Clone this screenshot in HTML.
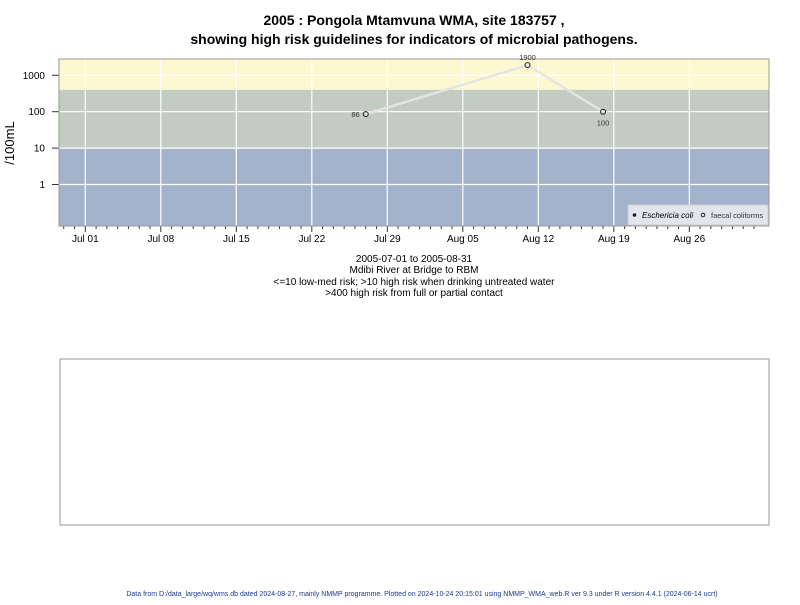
<!DOCTYPE html>
<html><head><meta charset="utf-8"><style>
body{margin:0;background:#fff;font-family:"Liberation Sans",sans-serif}
svg text{font-family:"Liberation Sans",sans-serif}
</style></head><body>
<svg width="800" height="600" viewBox="0 0 800 600">
<text x="414" y="25" text-anchor="middle" font-size="14" font-weight="bold">2005 : Pongola Mtamvuna WMA, site 183757 ,</text>
<text x="414" y="44" text-anchor="middle" font-size="14" font-weight="bold">showing high risk guidelines for indicators of microbial pathogens.</text>
<g id="plot"></g>
<text x="14" y="143" font-size="13" transform="rotate(-90 14 143)" text-anchor="middle">/100mL</text>
<text x="414" y="262" text-anchor="middle" font-size="10">2005-07-01 to 2005-08-31</text>
<text x="414" y="273" text-anchor="middle" font-size="10">Mdibi River at Bridge to RBM</text>
<text x="414" y="285" text-anchor="middle" font-size="10">&lt;=10 low-med risk; &gt;10 high risk when drinking untreated water</text>
<text x="414" y="296" text-anchor="middle" font-size="10">&gt;400 high risk from full or partial contact</text>
<rect x="60" y="359" width="709" height="166" fill="none" stroke="#999"/>
<text x="422" y="596" text-anchor="middle" font-size="7" fill="#1a3a8a">Data from D:/data_large/wq/wms.db dated 2024-08-27, mainly NMMP programme. Plotted on 2024-10-24 20:15:01 using NMMP_WMA_web.R ver 9.3 under R version 4.4.1 (2024-06-14 ucrt)</text>
</svg>
<script>
const dates=["2005-07-27","2005-08-11","2005-08-18"];
const values=[86,1900,100];
const labels=["86","1900","100"];
const yTicks=[1,10,100,1000];
const xTickLabels=["Jul 01","Jul 08","Jul 15","Jul 22","Jul 29","Aug 05","Aug 12","Aug 19","Aug 26"];
const NS="http://www.w3.org/2000/svg";
const L=59,R=769,T=59,B=226;
const d0=Date.UTC(2005,6,1);
function day(s){return (Date.parse(s+"T00:00:00Z")-d0)/864e5;}
function x(d){return 85.3+d*10.786;}
function y(v){return 184.5-Math.log10(v)*36.4;}
const g=document.getElementById('plot');
function el(t,a,p){const e=document.createElementNS(NS,t);for(const k in a)e.setAttribute(k,a[k]);(p||g).appendChild(e);return e;}
let e;
e=el('rect',{x:L,y:T,width:R-L,height:y(400)-T,fill:'#fdf8d0'});


e=el('rect',{x:L,y:y(400),width:R-L,height:y(10)-y(400),fill:'#c2ccc0'});


e=el('rect',{x:L,y:y(10),width:R-L,height:B-y(10),fill:'#a2b3cb'});


yTicks.forEach(v=>{
 e=el('line',{x1:L,x2:R,y1:y(v),y2:y(v),stroke:'#fff','stroke-width':1.2});
 
 
 el('line',{x1:L-7,x2:L,y1:y(v),y2:y(v),stroke:'#333'});
 e=el('text',{x:45,y:y(v)+3.5,'text-anchor':'end','font-size':10});
 e.textContent=v;
 
 
});
xTickLabels.forEach((s,i)=>{
 const xx=x(i*7);
 e=el('line',{x1:xx,x2:xx,y1:T,y2:B,stroke:'#fff','stroke-width':1.2});
 
 
 el('line',{x1:xx,x2:xx,y1:B,y2:B+6,stroke:'#333'});
 e=el('text',{x:xx,y:B+16,'text-anchor':'middle','font-size':10});
 e.textContent=s;
 
 
});
for(let d=-2;d<=63;d++){if(d%7)el('line',{x1:x(d),x2:x(d),y1:B,y2:B+3,stroke:'#333'});}
el('rect',{x:L,y:T,width:R-L,height:B-T,fill:'none',stroke:'#999'});
const pts=dates.map((d,i)=>x(day(d))+','+y(values[i])).join(' ');
e=el('polyline',{points:pts,fill:'none',stroke:'#e4e4e4','stroke-width':2.5});


dates.forEach((d,i)=>{
 const cx=x(day(d)),cy=y(values[i]);
 e=el('circle',{cx:cx,cy:cy,r:2.5,fill:'none',stroke:'#222'});
 
 
 let lx=cx,ly=cy-5,anc='middle';
 if(i==0){lx=cx-6;ly=cy+3;anc='end';} else if(i==2){ly=cy+14;}
 e=el('text',{x:lx,y:ly,'text-anchor':anc,'font-size':7.5,fill:'#333'});
 e.textContent=labels[i];
 
 
});
const lg=el('g',{});


el('rect',{x:628,y:205,width:140,height:20,fill:'#e2e6ec',stroke:'#ccc'},lg);
el('circle',{cx:634.5,cy:215,r:1.8,fill:'#222'},lg);
e=el('text',{x:642,y:218,'font-size':8,'font-style':'italic'},lg);
e.textContent='Eschericia coli';


el('circle',{cx:703,cy:215,r:1.8,fill:'none',stroke:'#222'},lg);
e=el('text',{x:711,y:218,'font-size':7.5,fill:'#333'},lg);
e.textContent='faecal coliforms';


</script>
</body></html>
